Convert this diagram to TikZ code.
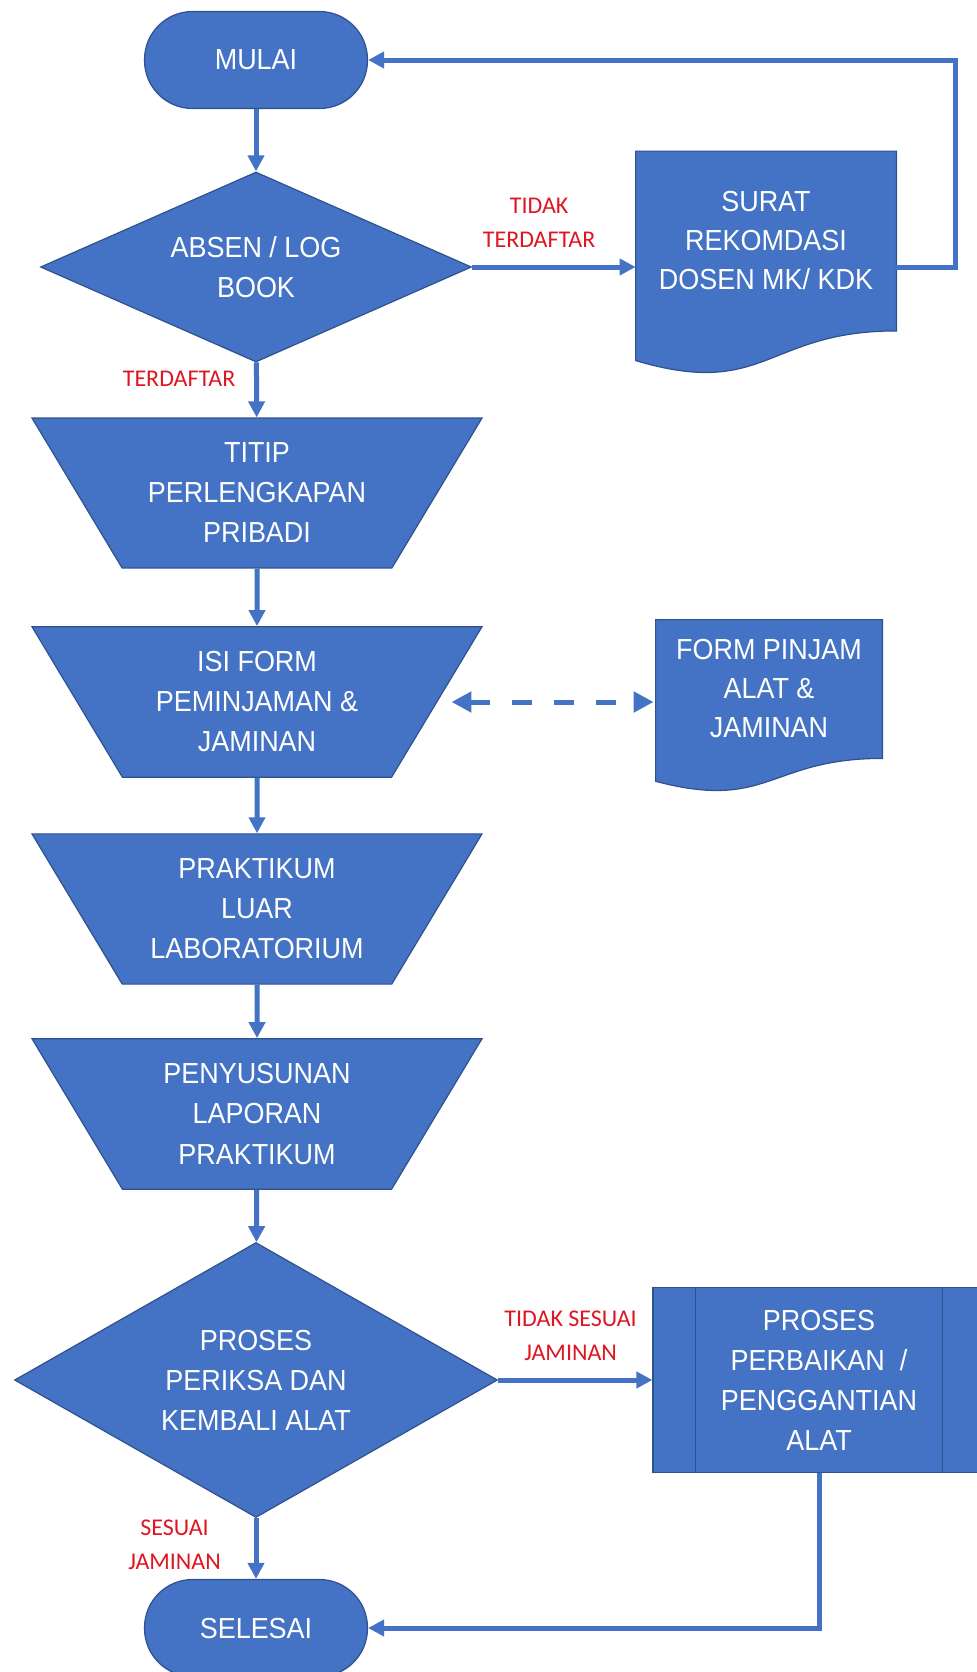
\documentclass[tikz,border=0pt]{standalone}
\usepackage{fontspec}
\setmainfont{Liberation Sans}[FakeStretch=0.93]
\newfontfamily\labelfont{Carlito}
\usetikzlibrary{shapes.geometric,arrows.meta,calc,backgrounds,positioning}
\definecolor{flowblue}{RGB}{68,114,196}
\definecolor{flowedge}{RGB}{47,82,143}
\definecolor{condred}{RGB}{222,22,34}
\tikzset{
	box/.style={fill=flowblue, draw=flowedge, line width=0.6pt, text=white, align=center, font=\fontsize{14.5}{20}\selectfont},
	terminal/.style={box, rectangle, rounded corners=24pt, minimum width=111.5pt, minimum height=48.5pt},
	decision/.style={box, diamond, inner sep=0pt},
	manual/.style={box, trapezium, shape border rotate=180, trapezium left angle=59, trapezium right angle=59, trapezium stretches body, minimum width=225pt, minimum height=74pt, inner xsep=0pt, inner ysep=12.5pt},
	docbox/.style={rectangle, text=white, align=center, font=\fontsize{14.5}{19.5}\selectfont},
	subproc/.style={box, rectangle, minimum width=166pt, minimum height=92.5pt},
	flow/.style={-{Triangle[width=8pt,length=8pt]}, color=flowblue, line width=2.5pt},
	dashflow/.style={{Triangle[width=10pt,length=10pt]}-{Triangle[width=10pt,length=10pt]}, color=flowblue, line width=2.5pt, dash pattern=on 10pt off 11pt},
	cond/.style={text=condred, align=center, font=\labelfont\fontsize{12}{17}\selectfont}
}
\newcommand{\docfill}[1]{%
	\filldraw[fill=flowblue, draw=flowedge, line width=0.6pt] (#1.north west) -- (#1.north east) -- (#1.south east)
	.. controls (#1.south) and ($(#1.north)!1.381!(#1.south)$) .. ($(#1.north west)!1.165!(#1.south west)$) -- cycle;}

\begin{document}
\begin{tikzpicture}[x=0.5pt,y=-0.5pt]
	\useasboundingbox (0,0) rectangle (976,1672);
	%%% main column
	\node[terminal] (mulai) at (256,60) {MULAI};
	\node[decision, minimum width=215.5pt, minimum height=95pt, shape aspect=2.27] (absen) at (256,267) {ABSEN / LOG\\BOOK};
	\node[manual] (titip) at (257,493) {TITIP\\PERLENGKAPAN\\PRIBADI};
	\node[manual] (isi) at (257,702) {ISI FORM\\PEMINJAMAN \&\\JAMINAN};
	\node[manual] (praktikum) at (257,909) {PRAKTIKUM\\LUAR\\LABORATORIUM};
	\node[manual] (susun) at (257,1114) {PENYUSUNAN\\LAPORAN\\PRAKTIKUM};
	\node[decision, minimum width=241.5pt, minimum height=137.5pt, shape aspect=1.75] (periksa) at (256,1380) {PROSES\\PERIKSA DAN\\KEMBALI ALAT};
	\node[terminal] (selesai) at (256,1628) {SELESAI};
	%%% right side
	\node[docbox, minimum width=130pt, minimum height=89.5pt] (surat) at (766,241) {SURAT\\REKOMDASI\\DOSEN MK/ KDK};
	\node[docbox, minimum width=113pt, minimum height=69pt] (form) at (769,689) {FORM PINJAM\\ALAT \&\\JAMINAN};
	\node[subproc] (perbaikan) at (819,1380) {PROSES\\PERBAIKAN~~/\\PENGGANTIAN\\ALAT};
	\draw[flowedge, line width=0.6pt] ([xshift=21.5pt]perbaikan.north west) -- ([xshift=21.5pt]perbaikan.south west)
		([xshift=-21.5pt]perbaikan.north east) -- ([xshift=-21.5pt]perbaikan.south east);
	\begin{scope}[on background layer]
		\docfill{surat}
		\docfill{form}
	\end{scope}
	%%% arrows
	\draw[flow] (mulai) -- (absen);
	\draw[flow] (absen.east) -- node[cond, above=5pt, pos=0.41] {TIDAK\\TERDAFTAR} (absen.east -| surat.west);
	\draw[flow] (absen.east -| surat.east) -- ++(59,0) |- (mulai.east);
	\draw[flow] (absen) -- node[cond, left=6pt, pos=0.3] {TERDAFTAR} (titip);
	\draw[flow] (titip) -- (isi);
	\draw[dashflow] ([xshift=7pt]isi.east) -- ([xshift=-1pt]isi.east -| form.west);
	\draw[flow] (isi) -- (praktikum);
	\draw[flow] (praktikum) -- (susun);
	\draw[flow] (susun) -- (periksa);
	\draw[flow] (periksa.east) -- node[cond, above=5pt, pos=0.47] {TIDAK SESUAI\\JAMINAN} (periksa.east -| perbaikan.west);
	\draw[flow] (periksa) -- node[cond, left=13pt, pos=0.44] {SESUAI\\JAMINAN} (selesai);
	\draw[flow] (perbaikan.south) |- (selesai.east);
\end{tikzpicture}
\end{document}
